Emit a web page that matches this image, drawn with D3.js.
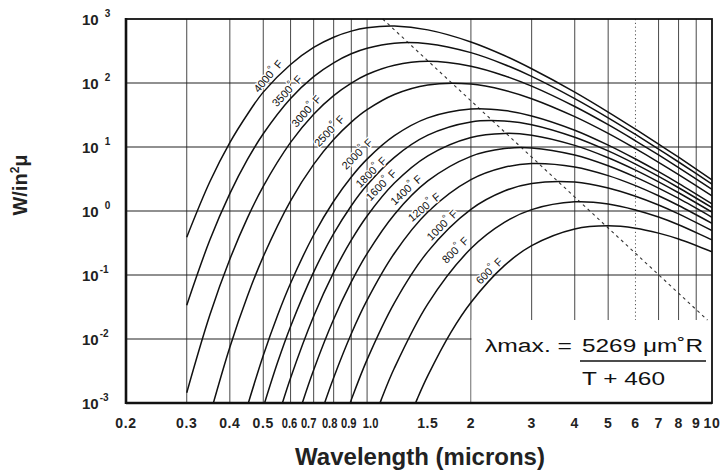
<!DOCTYPE html>
<html>
<head>
<meta charset="utf-8">
<script src="https://cdn.jsdelivr.net/npm/d3@7"></script>
<style>
  body { margin: 0; background: #fff; }
  svg { display: block; font-family: "Liberation Sans", Arial, Helvetica, sans-serif; }
</style>
</head>
<body>
<svg id="chart" width="725" height="475"></svg>
<script>
// blackbody curves, W/in²μ against wavelength (microns), one list per temperature (°F)
var temps = [4000, 3500, 3000, 2500, 2000, 1800, 1600, 1400, 1200, 1000, 800, 600];

var c4000 = [[0.3,0.389],[0.35,2.86],[0.4,11.7],[0.45,32.5],[0.5,72],[0.6,194.5],[0.7,359],[0.8,519],[0.9,646],[1,728],[1.2,774],[1.5,676],[2,438],[2.5,269],[3,167],[4,72.1],[5,35.2],[6,19.0],[7,11.1],[8,6.92],[10,3.07]];
var c3500 = [[0.3,0.0338],[0.35,0.352],[0.4,1.87],[0.45,6.38],[0.5,16.1],[0.6,57.3],[0.7,126],[0.8,207],[0.9,286],[1,349],[1.2,419],[1.5,411],[2,298],[2.5,195],[3,127],[4,57.1],[5,28.6],[6,15.7],[7,9.29],[8,5.83],[10,2.62]];
var c3000 = [[0.3,0.00145],[0.35,0.0237],[0.4,0.176],[0.45,0.780],[0.5,2.43],[0.6,11.8],[0.7,32.6],[0.8,63.6],[0.9,99.9],[1,136],[1.2,190],[1.5,218],[2,183],[2.5,130],[3,89.3],[4,42.9],[5,22.3],[6,12.5],[7,7.51],[8,4.76],[10,2.17]];
var c2500 = [[0.35,0.000638],[0.4,0.00745],[0.45,0.0470],[0.5,0.194],[0.6,1.44],[0.7,5.35],[0.8,13.1],[0.9,24.5],[1,38.3],[1.2,66.2],[1.5,93.3],[2,96.2],[2.5,77.0],[3,56.9],[4,29.8],[5,16.3],[6,9.41],[7,5.77],[8,3.71],[10,1.73]];
var c2000 = [[0.45,0.000902],[0.5,0.00552],[0.55,0.0233],[0.6,0.0743],[0.7,0.422],[0.8,1.42],[0.9,3.40],[1,6.46],[1.2,15.0],[1.5,28.5],[2,39.2],[2.5,37.2],[3,30.6],[4,18.3],[5,10.7],[6,6.49],[7,4.11],[8,2.70],[10,1.29]];
var c1800 = [[0.5,0.000857],[0.55,0.00428],[0.6,0.0157],[0.7,0.111],[0.8,0.442],[0.9,1.21],[1,2.54],[1.2,6.90],[1.5,15.3],[2,24.6],[2.5,25.5],[3,22.3],[4,14.2],[5,8.68],[6,5.40],[7,3.47],[8,2.31],[10,1.13]];
var c1600 = [[0.55,0.000565],[0.6,0.00246],[0.7,0.0227],[0.8,0.110],[0.9,0.350],[1,0.836],[1.2,2.73],[1.5,7.28],[2,14.1],[2.5,16.3],[3,15.3],[4,10.6],[5,6.80],[6,4.36],[7,2.86],[8,1.93],[10,0.960]];
var c1400 = [[0.6,0.000258],[0.65,0.00103],[0.7,0.00329],[0.8,0.0203],[0.9,0.0779],[1,0.216],[1.2,0.885],[1.5,2.95],[2,7.15],[2.5,9.46],[3,9.67],[4,7.48],[5,5.08],[6,3.38],[7,2.28],[8,1.57],[10,0.798]];
var c1200 = [[0.7,0.000299],[0.75,0.000938],[0.8,0.00249],[0.9,0.0121],[1,0.0404],[1.2,0.219],[1.5,0.965],[2,3.09],[2.5,4.82],[3,5.51],[4,4.87],[5,3.57],[6,2.49],[7,1.73],[8,1.22],[10,0.642]];
var c1000 = [[0.8,0.000172],[0.85,0.000468],[0.9,0.00112],[1,0.00476],[1.2,0.0368],[1.5,0.232],[2,1.06],[2.5,2.05],[3,2.69],[4,2.83],[5,2.29],[6,1.70],[7,1.24],[8,0.901],[10,0.493]];
var c800 = [[1,0.000284],[1.1,0.00114],[1.2,0.00352],[1.5,0.0355],[2,0.259],[2.5,0.664],[3,1.05],[4,1.39],[5,1.29],[6,1.04],[7,0.805],[8,0.611],[10,0.354]];
var c600 = [[1.3,0.000445],[1.4,0.00118],[1.5,0.00267],[1.75,0.0127],[2,0.0372],[2.5,0.140],[3,0.288],[4,0.525],[5,0.587],[6,0.538],[7,0.451],[8,0.365],[10,0.230]];

var curves = [c4000, c3500, c3000, c2500, c2000, c1800, c1600, c1400, c1200, c1000, c800, c600];

// where each temperature label sits (wavelength, W/in²μ) and its slant
var labelAt = [[0.516,128],[0.586,75],[0.666,36.5],[0.776,17.8],[0.935,7.8],[1.027,4.06],[1.098,2.55],[1.297,2.13],[1.463,1.155],[1.65,0.604],[1.8,0.246],[2.258,0.1155]];
var labelAngle = [-50, -47, -49, -47, -45, -45, -46, -43, -40, -45, -45, -45];

// peak locus (dashed) and the formula box
var wien = [[1.11, 1000], [9.7, 0.0198]];
var boxTop = 0.0198;

var xTicks = [0.2, 0.3, 0.4, 0.5, 0.6, 0.7, 0.8, 0.9, 1, 1.5, 2, 3, 4, 5, 6, 7, 8, 9, 10];
var xTickText = ["0.2","0.3","0.4","0.5","0.6","0.7","0.8","0.9","1.0","1.5","2","3","4","5","6","7","8","9","10"];
var xGrid = [0.3, 0.4, 0.5, 0.6, 0.7, 0.8, 0.9, 1, 2, 3, 4, 5, 7, 8, 9];
var xDotted = [6];
var yExp = [-3, -2, -1, 0, 1, 2, 3];

var svg = d3.select("#chart");

var x = d3.scaleLog().domain([0.2, 10]).range([126, 712]);
var y = d3.scaleLog().domain([1e-3, 1e3]).range([403, 19]);

svg.append("defs").append("clipPath").attr("id", "plot")
  .append("rect")
  .attr("x", x(0.2)).attr("y", y(1e3))
  .attr("width", x(10) - x(0.2)).attr("height", y(1e-3) - y(1e3));

// grid
svg.append("g").selectAll("line")
  .data(xGrid)
  .enter().append("line")
  .attr("x1", function(d) { return x(d); })
  .attr("x2", function(d) { return x(d); })
  .attr("y1", y(1e3)).attr("y2", y(1e-3))
  .attr("stroke", "#333").attr("stroke-width", 0.9);

svg.append("g").selectAll("line")
  .data(xDotted)
  .enter().append("line")
  .attr("x1", function(d) { return x(d); })
  .attr("x2", function(d) { return x(d); })
  .attr("y1", y(1e3)).attr("y2", y(1e-3))
  .attr("stroke", "#555").attr("stroke-width", 1)
  .attr("stroke-dasharray", "1.2,2.6");

svg.append("g").selectAll("line")
  .data(yExp.slice(1, -1))
  .enter().append("line")
  .attr("x1", x(0.2)).attr("x2", x(10))
  .attr("y1", function(d) { return y(Math.pow(10, d)); })
  .attr("y2", function(d) { return y(Math.pow(10, d)); })
  .attr("stroke", "#222").attr("stroke-width", 1.1);

// white panel for the formula
svg.append("rect")
  .attr("x", x(2) + 0.6).attr("y", y(boxTop))
  .attr("width", x(10) - x(2) - 0.6).attr("height", y(1e-3) - y(boxTop))
  .attr("fill", "#fff");

// dashed peak line
svg.append("line")
  .attr("x1", x(wien[0][0])).attr("y1", y(wien[0][1]))
  .attr("x2", x(wien[1][0])).attr("y2", y(wien[1][1]))
  .attr("stroke", "#333").attr("stroke-width", 1.1)
  .attr("stroke-dasharray", "3,3.5");

// curves
var line = d3.line()
  .x(function(d) { return x(d[0]); })
  .y(function(d) { return y(d[1]); })
  .curve(d3.curveCatmullRom.alpha(0.5));

svg.append("g").attr("clip-path", "url(#plot)")
  .selectAll("path")
  .data(curves)
  .enter().append("path")
  .attr("d", line)
  .attr("fill", "none")
  .attr("stroke", "#111")
  .attr("stroke-width", 1.5);

// temperature labels
var lab = svg.append("g").selectAll("text")
  .data(temps)
  .enter().append("text")
  .attr("transform", function(d, i) {
    return "translate(" + x(labelAt[i][0]) + "," + y(labelAt[i][1]) + ") rotate(" + labelAngle[i] + ")";
  })
  .attr("text-anchor", "middle")
  .attr("dy", "0.35em")
  .attr("font-size", "11px")
  .attr("fill", "#111")
  .attr("stroke", "#fff").attr("stroke-width", 2.5)
  .attr("paint-order", "stroke");
lab.append("tspan").text(function(d) { return d; });
lab.append("tspan").attr("dy", "-0.35em").attr("font-size", "10px").text("°");
lab.append("tspan").attr("dy", "0.35em").text(" F");

// frame
svg.append("rect")
  .attr("x", x(0.2)).attr("y", y(1e3))
  .attr("width", x(10) - x(0.2)).attr("height", y(1e-3) - y(1e3))
  .attr("fill", "none").attr("stroke", "#111").attr("stroke-width", 1.8);
svg.append("line")
  .attr("x1", x(0.2)).attr("x2", x(0.2)).attr("y1", y(1e3) - 1).attr("y2", y(1e-3) + 1)
  .attr("stroke", "#111").attr("stroke-width", 2.6);
svg.append("line")
  .attr("x1", x(0.2)).attr("x2", x(10)).attr("y1", y(1e-3)).attr("y2", y(1e-3))
  .attr("stroke", "#111").attr("stroke-width", 2.4);

// x tick labels; the crowded ones (0.6 - 1.0) are squeezed and spread a little, as in the print
var crowdNudge = { "0.6": -1, "0.7": -5, "0.8": -4, "0.9": -2.5, "1.0": 3.5 };
var xl = svg.append("g").selectAll("text")
  .data(xTicks)
  .enter().append("text")
  .attr("x", function(d, i) { return x(d) + (crowdNudge[xTickText[i]] || 0); })
  .attr("y", 428)
  .attr("text-anchor", "middle")
  .attr("font-size", "14px")
  .attr("font-weight", "bold")
  .attr("fill", "#222")
  .text(function(d, i) { return xTickText[i]; });
xl.filter(function(d) { return d >= 0.6 && d <= 1; })
  .attr("textLength", 15.5)
  .attr("lengthAdjust", "spacingAndGlyphs");
xl.filter(function(d) { return d < 0.6 || d > 1; })
  .attr("letter-spacing", "0.6px");

// y tick labels 10^n
var yl = svg.append("g").selectAll("text")
  .data(yExp)
  .enter().append("text")
  .attr("x", 82)
  .attr("y", function(d) { return y(Math.pow(10, d)) + 6; })
  .attr("font-size", "15px")
  .attr("font-weight", "bold")
  .attr("fill", "#222");
yl.append("tspan").text("10");
yl.append("tspan")
  .attr("dx", function(d) { return d < 0 ? 1 : 6; })
  .attr("dy", -8)
  .attr("font-size", "10px")
  .text(function(d) { return d; });

// axis titles
svg.append("text")
  .attr("x", 420).attr("y", 465)
  .attr("text-anchor", "middle")
  .attr("font-size", "24px").attr("font-weight", "bold").attr("fill", "#222")
  .text("Wavelength (microns)");

var yt = svg.append("text")
  .attr("transform", "translate(27,185) rotate(-90)")
  .attr("text-anchor", "middle")
  .attr("font-size", "20px").attr("font-weight", "bold").attr("fill", "#222");
yt.append("tspan").text("W/in");
yt.append("tspan").attr("dy", -8).attr("font-size", "12px").text("2");
yt.append("tspan").attr("dy", 8).text("μ");

// formula
svg.append("text")
  .attr("x", 485).attr("y", 352)
  .attr("font-size", "18px").attr("fill", "#111")
  .attr("textLength", 87).attr("lengthAdjust", "spacingAndGlyphs")
  .text("λmax. =");
svg.append("text")
  .attr("x", 582).attr("y", 352)
  .attr("font-size", "18px").attr("fill", "#111")
  .attr("textLength", 121).attr("lengthAdjust", "spacingAndGlyphs")
  .text("5269 μm˚R");
svg.append("line")
  .attr("x1", 580).attr("x2", 706).attr("y1", 361).attr("y2", 361)
  .attr("stroke", "#111").attr("stroke-width", 1.5);
svg.append("text")
  .attr("x", 582).attr("y", 385)
  .attr("font-size", "18px").attr("fill", "#111")
  .attr("textLength", 83).attr("lengthAdjust", "spacingAndGlyphs")
  .text("T + 460");
</script>
</body>
</html>
